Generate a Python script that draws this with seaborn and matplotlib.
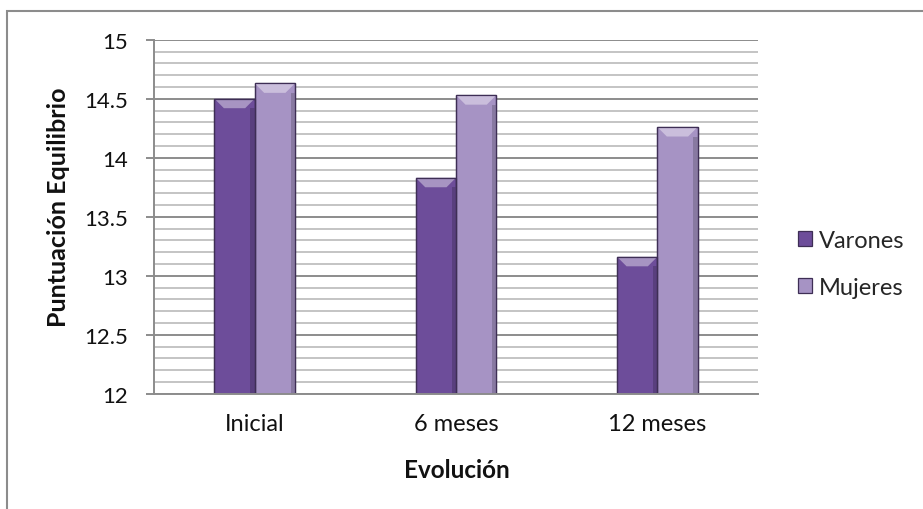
import matplotlib
matplotlib.use("Agg")
import matplotlib.pyplot as plt
import matplotlib.colors as mcolors
from matplotlib.patches import Polygon, Rectangle
from matplotlib.ticker import MultipleLocator, FuncFormatter
import seaborn as sns
import pandas as pd

# Data
categorias = ["Inicial", "6 meses", "12 meses"]
varones = [14.50, 13.83, 13.16]
mujeres = [14.63, 14.53, 14.26]
grupos = ["Varones", "Mujeres"]
colores = ["#6D4D9A", "#A693C4"]

df = pd.DataFrame({
    "Evolución": categorias * 2,
    "Puntuación": varones + mujeres,
    "Grupo": [grupos[0]] * len(categorias) + [grupos[1]] * len(categorias),
})

sns.set_theme(style="white")
plt.rcParams["font.family"] = ["Lato", "DejaVu Sans"]

W, H = 923, 510
fig = plt.figure(figsize=(W / 100, H / 100), dpi=100)
fig.patch.set_facecolor("white")

# plot area in pixels
left, right, top, bottom = 154, 758, 40.7, 394.7
aw, ah = right - left, bottom - top
ax = fig.add_axes([left / W, 1 - bottom / H, aw / W, ah / H])

sns.barplot(data=df, x="Evolución", y="Puntuación", hue="Grupo",
            hue_order=grupos, order=categorias, palette=colores,
            width=0.4, gap=0, ax=ax, edgecolor="#3E2E55", linewidth=0.9,
            saturation=1)

ax.set_ylim(12, 15)
ax.yaxis.set_major_locator(MultipleLocator(0.5))
ax.yaxis.set_minor_locator(MultipleLocator(0.1))
ax.yaxis.set_major_formatter(FuncFormatter(lambda v, p: f"{v:g}"))
ax.set_axisbelow(True)
ax.grid(which="major", axis="y", color="#8C8C8C", lw=1.4)
ax.grid(which="minor", axis="y", color="#C4C4C4", lw=1.4)
ax.grid(which="major", axis="x", visible=False)

for s in ["top", "right"]:
    ax.spines[s].set_visible(False)
for s in ["left", "bottom"]:
    ax.spines[s].set_color("#8C8C8C")
    ax.spines[s].set_linewidth(1.4)

ax.tick_params(axis="y", which="major", direction="out", length=6, width=1.4,
               color="#8C8C8C", labelsize=16, pad=12.5, left=True)
ax.tick_params(axis="y", which="minor", length=0)
ax.tick_params(axis="x", length=0, labelsize=17, pad=14)
for lab in ax.get_xticklabels() + ax.get_yticklabels():
    lab.set_color("#111111")

ax.set_xlabel("Evolución", fontsize=17.5, fontweight="bold", color="#111111")
ax.set_ylabel("Puntuación Equilibrio", fontsize=18, fontweight="bold", color="#111111")
ax.xaxis.label.set_va("center")
ax.yaxis.label.set_va("center")
ax.xaxis.set_label_coords((456.5 - left) / aw, -(470 - bottom) / ah)
ax.yaxis.set_label_coords((59 - left) / aw, (bottom - 207) / ah)

# bevel shading derived from each bar's geometry
fig.canvas.draw()
xl = ax.get_xlim()
px_x = (xl[1] - xl[0]) / aw
px_y = (15 - 12) / ah
d = 9.5
for bar in list(ax.patches):
    if bar.get_height() <= 0 or bar.get_width() <= 0:
        continue
    x0, w, h = bar.get_x(), bar.get_width(), bar.get_height()
    y1 = bar.get_y() + h
    base = mcolors.to_rgb(bar.get_facecolor())
    light = tuple(min(1, c + (1 - c) * 0.4) for c in base)
    dark = tuple(c * 0.82 for c in base)
    dx, dy = d * px_x, d * px_y
    z = bar.get_zorder()
    ax.add_patch(Polygon([(x0, y1), (x0 + w, y1), (x0 + w - dx, y1 - dy), (x0 + dx, y1 - dy)],
                         closed=True, facecolor=light, edgecolor="none", zorder=z + 0.1))
    ax.add_patch(Rectangle((x0 + w - dx * 0.45, 12), dx * 0.45, y1 - dy - 12,
                           facecolor=dark, edgecolor="none", zorder=z + 0.1))
    ax.add_patch(Rectangle((x0, y1), w, -(y1 - 12), facecolor="none",
                           edgecolor="#3E2E55", lw=0.9, zorder=z + 0.2))

# legend
handles, labels = ax.get_legend_handles_labels()
ax.legend(handles, labels, loc="center left", bbox_to_anchor=(798 / W, 1 - 265 / H),
          bbox_transform=fig.transFigure, frameon=False, fontsize=17,
          handlelength=0.6, handleheight=0.6, handletextpad=0.3, labelspacing=1.1,
          borderaxespad=0, borderpad=0)

# chart frame
fig.add_artist(Rectangle((7 / W, -0.02), 1.1, 1 - 12 / H + 0.02, transform=fig.transFigure,
                         facecolor="none", edgecolor="#8C8C8C", lw=1.5))

fig.savefig("out.png", dpi=100)
